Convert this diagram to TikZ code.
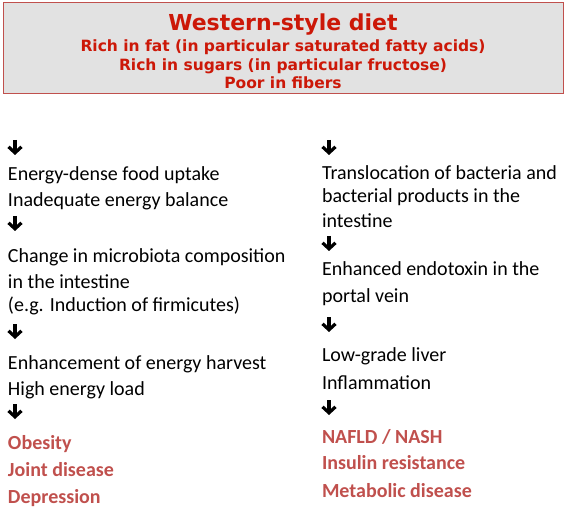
\documentclass[tikz,border=0pt]{standalone}
\usepackage{fontspec}
\setmainfont{Carlito}
\newfontfamily\boxfont{DejaVu Sans}
\usetikzlibrary{arrows.meta,positioning}

\definecolor{dietred}{RGB}{204,24,8}
\definecolor{outred}{RGB}{192,80,77}
\definecolor{boxgray}{RGB}{226,226,226}

\begin{document}
\begin{tikzpicture}[
    x=1pt,
    y=-1pt,
    font=\fontsize{20}{24}\selectfont,
    txt/.style={anchor=base west, inner sep=0, outer sep=0},
    outcome/.style={txt, text=outred, font=\fontsize{20}{24}\selectfont\bfseries},
    darr/.style={line width=3.4pt, -{Straight Barb[length=6pt, width=13pt, line width=3.2pt]}}
  ]

  \useasboundingbox (0,0) rectangle (567,510);

  % header box
  \node [draw=outred, line width=1pt, fill=boxgray, minimum width=560pt, minimum height=91pt,
         inner sep=0, text=dietred, align=center,
         font=\boxfont\bfseries\fontsize{15.5}{18.5}\selectfont] (diet) at (283,48.5)
    {\raisebox{0pt}[22.5pt][0pt]{\fontsize{22}{22}\selectfont Western-style diet}\\[3pt]
     Rich in fat (in particular saturated fatty acids)\\
     Rich in sugars (in particular fructose)\\
     Poor in fibers};

  % left chain
  \node [txt] (energy) at (8,181) {Energy-dense food uptake};
  \node [txt] (balance) at (8,207) {Inadequate energy balance};
  \node [txt] (change) at (8,263) {Change in microbiota composition};
  \node [txt] (change2) at (8,289) {in the intestine};
  \node [txt] (firmi) at (8,312) {(e.g. Induction of firmicutes)};
  \node [txt] (harvest) at (8,369) {Enhancement of energy harvest};
  \node [txt] (load) at (8,395) {High energy load};
  \node [outcome] (obesity) at (8,449) {Obesity};
  \node [outcome] (joint) at (8,476) {Joint disease};
  \node [outcome] (depr) at (8,503) {Depression};

  % right chain
  \node [txt] (transl) at (322,180) {Translocation of bacteria and};
  \node [txt] (transl2) at (322,203) {bacterial products in the};
  \node [txt] (transl3) at (322,228) {intestine};
  \node [txt] (endo) at (322,276) {Enhanced endotoxin in the};
  \node [txt] (endo2) at (322,303) {portal vein};
  \node [txt] (liver) at (322,361) {Low-grade liver};
  \node [txt] (inflam) at (322,389) {Inflammation};
  \node [outcome] (nafld) at (322,443) {NAFLD / NASH};
  \node [outcome] (insulin) at (322,469) {Insulin resistance};
  \node [outcome] (metab) at (322,497) {Metabolic disease};

  % arrows
  \coordinate (la1) at (15,140);
  \coordinate (la2) at (15,216);
  \coordinate (la3) at (15,324);
  \coordinate (la4) at (15,404);
  \coordinate (ra1) at (329,140);
  \coordinate (ra2) at (329,236);
  \coordinate (ra3) at (329,317);
  \coordinate (ra4) at (329,400);

  \draw [darr] (la1) -- ++(0,15);
  \draw [darr] (la2) -- ++(0,15);
  \draw [darr] (la3) -- ++(0,15);
  \draw [darr] (la4) -- ++(0,15);
  \draw [darr] (ra1) -- ++(0,15);
  \draw [darr] (ra2) -- ++(0,15);
  \draw [darr] (ra3) -- ++(0,15);
  \draw [darr] (ra4) -- ++(0,15);

\end{tikzpicture}
\end{document}
